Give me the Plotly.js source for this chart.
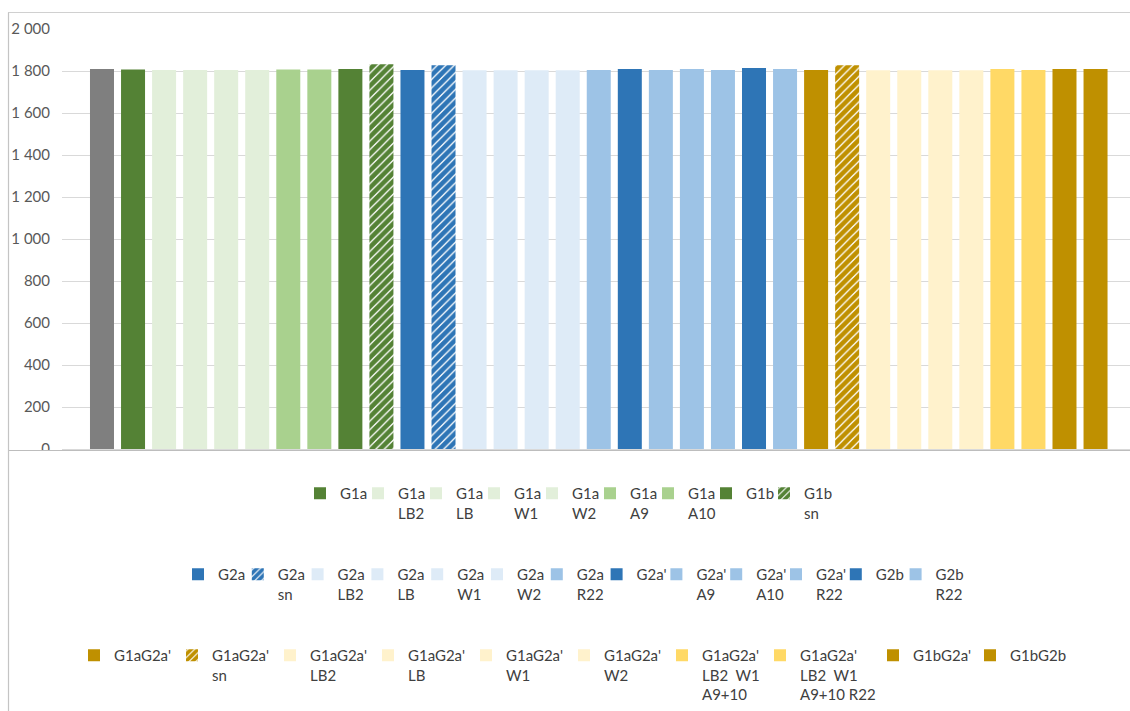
<!DOCTYPE html>
<html>
<head>
<meta charset="utf-8">
<script src="https://cdn.plot.ly/plotly-3.0.1.min.js"></script>
<style>html,body{margin:0;padding:0;background:#fff;}#chart{width:1130px;height:711px;}</style>
</head>
<body>
<div id="chart"></div>
<script>
// ---- data ----
const categories = ["Ref",
  "G1a","G1a LB2","G1a LB","G1a W1","G1a W2","G1a A9","G1a A10","G1b","G1b sn",
  "G2a","G2a sn","G2a LB2","G2a LB","G2a W1","G2a W2","G2a R22","G2a'","G2a' A9","G2a' A10","G2a' R22","G2b","G2b R22",
  "G1aG2a'","G1aG2a' sn","G1aG2a' LB2","G1aG2a' LB","G1aG2a' W1","G1aG2a' W2","G1aG2a' LB2 W1 A9+10","G1aG2a' LB2 W1 A9+10 R22","G1bG2a'","G1bG2b"];
const values = [1810,
  1807,1805,1805,1805,1805,1807,1807,1810,1832,
  1805,1827,1803,1803,1803,1803,1805,1810,1805,1810,1805,1814,1810,
  1805,1827,1803,1803,1803,1803,1810,1805,1810,1810];
const legendLabels = ["",
  "G1a","G1a<br>LB2","G1a<br>LB","G1a<br>W1","G1a<br>W2","G1a<br>A9","G1a<br>A10","G1b","G1b<br>sn",
  "G2a","G2a<br>sn","G2a<br>LB2","G2a<br>LB","G2a<br>W1","G2a<br>W2","G2a<br>R22","G2a'","G2a'<br>A9","G2a'<br>A10","G2a'<br>R22","G2b","G2b<br>R22",
  "G1aG2a'","G1aG2a'<br>sn","G1aG2a'<br>LB2","G1aG2a'<br>LB","G1aG2a'<br>W1","G1aG2a'<br>W2","G1aG2a'<br>LB2  W1<br>A9+10","G1aG2a'<br>LB2  W1<br>A9+10 R22","G1bG2a'","G1bG2b"];
const yTicks = [0,200,400,600,800,1000,1200,1400,1600,1800,2000];

// ---- styles ----
const barColors = ["#7f7f7f",
  "#548235","#e2efda","#e2efda","#e2efda","#e2efda","#a9d18e","#a9d18e","#548235","#548235",
  "#2e75b6","#2e75b6","#deebf7","#deebf7","#deebf7","#deebf7","#9dc3e6","#2e75b6","#9dc3e6","#9dc3e6","#9dc3e6","#2e75b6","#9dc3e6",
  "#bf9000","#bf9000","#fff2cc","#fff2cc","#fff2cc","#fff2cc","#ffd966","#ffd966","#bf9000","#bf9000"];
const hatched = categories.map(c => / sn$/.test(c));

// ---- layout geometry (pixels) ----
const W = 1130, H = 711;
const ML = 62, PT = 29, PB = 449;          // plot area left, top, bottom
const PW = W - ML, PH = PB - PT;
const px2x = p => (p - ML) / PW;
const px2y = p => (PB - p) / PH;

// legend item symbol positions (left edge of reference symbol) and row line centers
const rowY = [489, 570, 651];
const row1X = [0,1,2,3,4,5,6,7,8].map(i => 320 + 58 * i);
const row2X = [0,1,2,3,4,5,6,7,8,9,10,11,12].map(i => 198 + 59.8 * i);
const row3X = [94, 192, 290, 388, 486, 584, 682, 780, 893, 990];
const legendPos = [null];
row1X.forEach(x => legendPos.push([x, rowY[0]]));
row2X.forEach(x => legendPos.push([x, rowY[1]]));
row3X.forEach(x => legendPos.push([x, rowY[2]]));

const FONT = "Lato, 'Liberation Sans', sans-serif";
const traces = [];
const layout = {
  width: W, height: H, autosize: false,
  margin: {l: ML, r: 0, t: PT, b: H - PB, pad: 0, autoexpand: false},
  paper_bgcolor: "#ffffff", plot_bgcolor: "#ffffff",
  separators: ". ",
  barmode: "overlay",
  showlegend: true,
  xaxis: {
    type: "category", categoryorder: "array", categoryarray: categories,
    range: [-1.288, 33.11], showticklabels: false, ticks: "", showgrid: false,
    zeroline: false, showline: true, linecolor: "#d9d9d9", linewidth: 1, fixedrange: true
  },
  yaxis: {
    range: [0, 2000], tickvals: yTicks, tickformat: ",d", ticks: "",
    showgrid: true, gridcolor: "#d9d9d9", gridwidth: 1, zeroline: false, showline: false,
    ticklabelstandoff: 11,
    tickfont: {family: FONT, size: 15, color: "#595959"}, fixedrange: true
  },
  shapes: [
    // crop of the chart below its frame
    {type: "rect", xref: "paper", yref: "paper", x0: px2x(0), x1: px2x(W + 5), y0: px2y(451), y1: px2y(H + 5),
     fillcolor: "#ffffff", line: {width: 0}, layer: "above"},
    // frame lines
    {type: "line", xref: "paper", yref: "paper", x0: px2x(8), x1: px2x(W + 5), y0: px2y(12.5), y1: px2y(12.5),
     line: {color: "#d0d0d0", width: 1}, layer: "above"},
    {type: "line", xref: "paper", yref: "paper", x0: px2x(8), x1: px2x(W + 5), y0: px2y(450.5), y1: px2y(450.5),
     line: {color: "#bdbdbd", width: 1.2}, layer: "above"},
    {type: "line", xref: "paper", yref: "paper", x0: px2x(8.5), x1: px2x(8.5), y0: px2y(12.5), y1: px2y(H + 5),
     line: {color: "#c4c4c4", width: 1.2}, layer: "above"}
  ]
};

categories.forEach((cat, i) => {
  const tr = {
    type: "bar", x: [cat], y: [values[i]], name: legendLabels[i],
    width: 0.773,
    marker: {color: barColors[i], line: {width: 0}},
    hoverinfo: "x+y"
  };
  if (hatched[i]) {
    tr.marker.color = "#ffffff";
    tr.marker.pattern = {shape: "/", fgcolor: barColors[i], fgopacity: 1, bgcolor: "#ffffff", size: 6, solidity: 0.78, fillmode: "overlay"};
  }
  if (i === 0) {
    tr.showlegend = false;
  } else {
    const id = i === 1 ? "legend" : "legend" + i;
    tr.legend = id;
    const pos = legendPos[i];
    layout[id] = {
      xref: "container", yref: "container",
      x: (pos[0] - 20) / W, y: 1 - (pos[1] - 12) / H,
      xanchor: "left", yanchor: "top",
      orientation: "v", valign: "top",
      bgcolor: "rgba(0,0,0,0)", borderwidth: 0,
      itemclick: false, itemdoubleclick: false,
      font: {family: FONT, size: 15, color: "#404040"}
    };
  }
  traces.push(tr);
});

Plotly.newPlot("chart", traces, layout, {displayModeBar: false, staticPlot: false});
</script>
</body>
</html>
